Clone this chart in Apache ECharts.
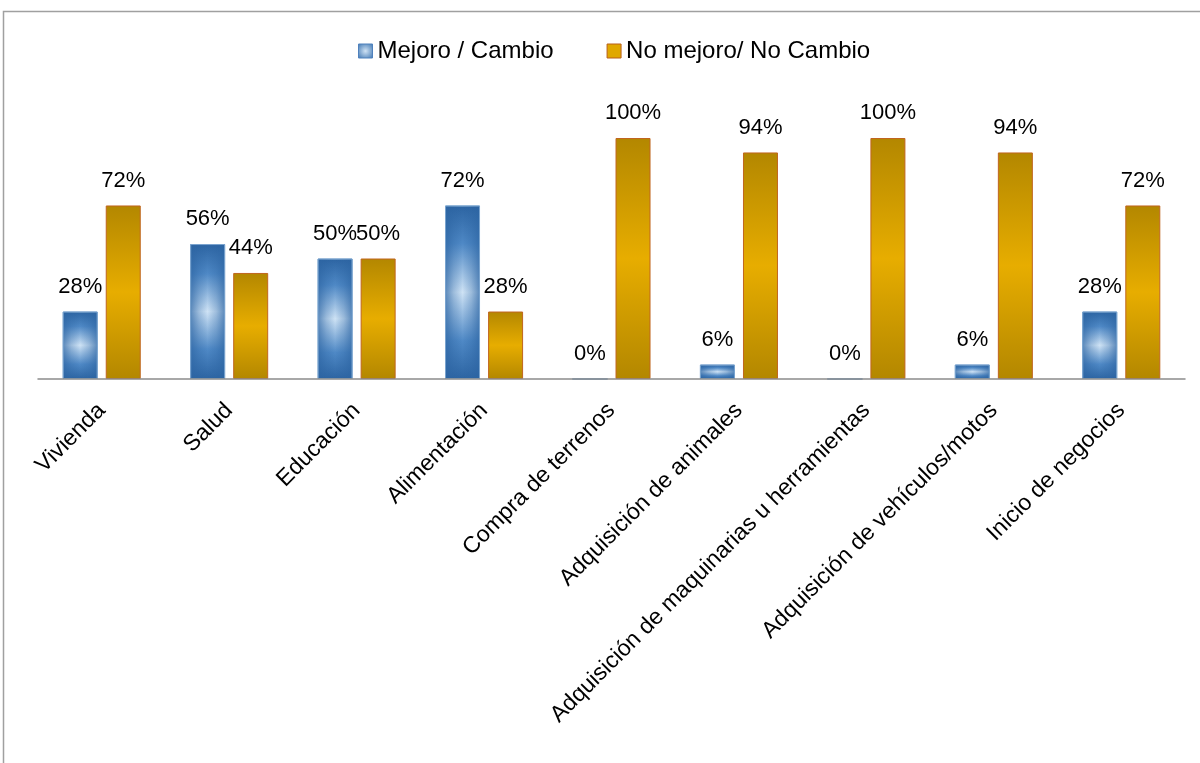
<!DOCTYPE html>
<html>
<head>
<meta charset="utf-8">
<script src="https://cdn.jsdelivr.net/npm/echarts@6/dist/echarts.min.js"></script>
<style>html,body{margin:0;padding:0;background:#fff;}#c{width:1200px;height:763px;}</style>
</head>
<body>
<div id="c"></div>
<script>
var categories = ["Vivienda","Salud","Educación","Alimentación","Compra de terrenos","Adquisición de animales","Adquisición de maquinarias u herramientas","Adquisición de vehículos/motos","Inicio de negocios"];
var seriesNames = ["Mejoro / Cambio","No mejoro/ No Cambio"];
var mejoro = [0.28,0.56,0.50,0.72,0,0.06,0,0.06,0.28];
var noMejoro = [0.72,0.44,0.50,0.28,1.00,0.94,1.00,0.94,0.72];

var FONT = 'Liberation Sans';
var DARK = '#2c64a2';
var blueFill = {type:'linear',x:0,y:0,x2:0,y2:1,colorStops:[
  {offset:0,color:DARK},{offset:0.22,color:'#4f89c6'},{offset:0.5,color:'#cfe3f5'},{offset:0.78,color:'#4f89c6'},{offset:1,color:DARK}]};
var blueShade = {type:'linear',x:0,y:0,x2:1,y2:0,colorStops:[
  {offset:0,color:'rgba(44,100,162,0.72)'},{offset:0.25,color:'rgba(44,100,162,0.3)'},{offset:0.5,color:'rgba(44,100,162,0)'},
  {offset:0.75,color:'rgba(44,100,162,0.3)'},{offset:1,color:'rgba(44,100,162,0.72)'}]};
var legendBlue = {type:'radial',x:0.5,y:0.5,r:0.7,colorStops:[{offset:0,color:'#cfe2f4'},{offset:1,color:'#3a73b0'}]};
var orangeFill = {type:'linear',x:0,y:0,x2:0,y2:1,colorStops:[{offset:0,color:'#b38700'},{offset:0.5,color:'#e7ad00'},{offset:1,color:'#b38700'}]};
var labelCfg = {show:true,position:'top',distance:14,color:'#000',fontFamily:FONT,fontSize:22,formatter:function(p){return Math.round(p.value*100)+'%';}};

var chart = echarts.init(document.getElementById('c'));
chart.setOption({
  animation:false,
  backgroundColor:'#fff',
  graphic:[{type:'rect',shape:{x:3.5,y:11.5,width:1400,height:1000},style:{fill:'none',stroke:'#a0a0a0',lineWidth:1.5},silent:true,z:-1}],
  legend:{
    left:353, top:34, itemWidth:14, itemHeight:14, itemGap:53,
    textStyle:{fontFamily:FONT,fontSize:24,color:'#000'},
    data:[{name:seriesNames[0],icon:'rect',itemStyle:{color:legendBlue,borderColor:'#4f81bd',borderWidth:1}},
          {name:seriesNames[1],icon:'rect',itemStyle:{color:'#e0a800',borderColor:'#b85f1a',borderWidth:1}}]
  },
  grid:{left:38,right:15,top:138,bottom:384,containLabel:false},
  xAxis:[{
    type:'category',data:categories,z:5,
    axisLine:{lineStyle:{color:'#8c8c8c',width:1.5}},
    axisTick:{show:false},
    axisLabel:{interval:0,rotate:45,margin:28,color:'#000',fontFamily:FONT,fontSize:23}
  },{
    type:'category',data:categories,show:false
  }],
  yAxis:[{type:'value',min:0,max:1,show:false,splitLine:{show:false}},
         {type:'value',min:0,max:1,show:false,splitLine:{show:false}}],
  series:[
    {name:seriesNames[0],type:'bar',data:mejoro,barWidth:35,barGap:'23%',
     itemStyle:{color:blueFill,borderColor:'#7aa4cf',borderWidth:1},label:labelCfg},
    {name:seriesNames[1],type:'bar',data:noMejoro,barWidth:35,
     itemStyle:{color:orangeFill,borderColor:'#c0651f',borderWidth:1},label:labelCfg},
    {name:'shade',type:'bar',xAxisIndex:1,yAxisIndex:1,data:mejoro,barWidth:35,barGap:'23%',silent:true,z:3,
     itemStyle:{color:blueShade,borderColor:'#7aa4cf',borderWidth:1},label:{show:false}},
    {name:'spacer',type:'bar',xAxisIndex:1,yAxisIndex:1,data:noMejoro.map(function(){return '-';}),barWidth:35,silent:true}
  ]
});
</script>
</body>
</html>
